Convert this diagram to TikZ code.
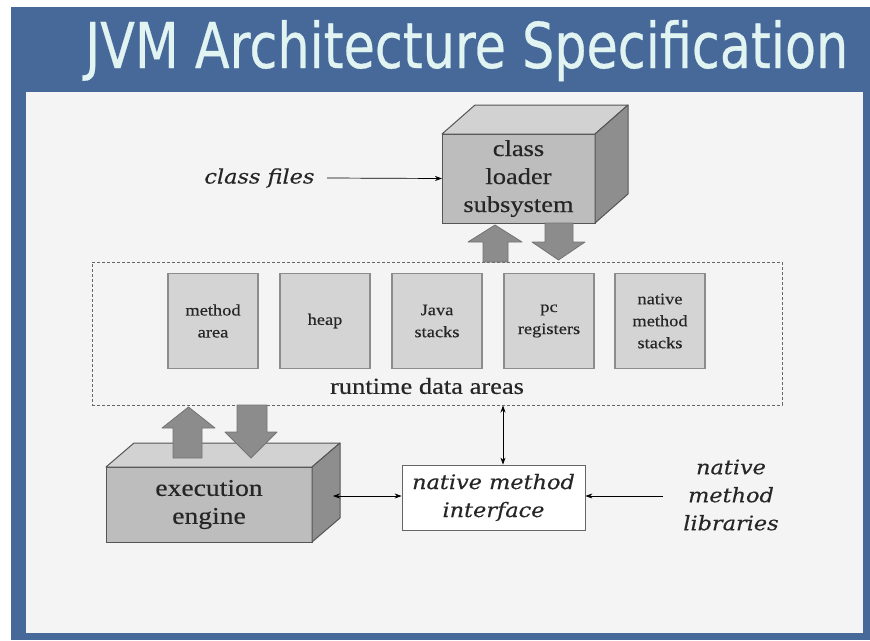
\documentclass[tikz,border=0pt]{standalone}
\usepackage{fontspec}
\setmainfont{Liberation Serif}[FakeStretch=1.15,FakeBold=0.4]
\newfontfamily\titlefont{DejaVu Sans}[FakeBold=0.5]
\newfontfamily\itfont{DejaVu Serif}[FakeStretch=1.12,FakeBold=0.3]
\usepackage{graphicx}
\usetikzlibrary{arrows.meta}
\definecolor{bgblue}{HTML}{46699A}
\definecolor{panelc}{HTML}{F4F4F4}
\definecolor{titlefg}{HTML}{E2F4F2}
\definecolor{frontc}{HTML}{BDBDBD}
\definecolor{topc}{HTML}{D2D2D2}
\definecolor{sidec}{HTML}{8E8E8E}
\definecolor{edgec}{HTML}{555555}
\definecolor{blockc}{HTML}{8C8C8C}
\definecolor{innerc}{HTML}{D4D4D4}
\begin{document}
\begin{tikzpicture}[x=1pt,y=-1pt,
  front/.style={draw=edgec,fill=frontc,line width=1pt,inner sep=0,outer sep=0,align=center,
    font=\fontsize{23}{28}\selectfont,text=black!85},
  topface/.style={draw=edgec,fill=topc,line width=1pt,line join=round},
  sideface/.style={draw=edgec,fill=sidec,line width=1pt,line join=round},
  blockarrow/.style={draw=black!55,fill=blockc,line width=0.8pt,line join=round},
  inner/.style={draw=black!45,fill=innerc,line width=1.2pt,minimum width=90,minimum height=95,
    inner sep=0,align=center,font=\fontsize{16}{22}\selectfont,text=black!85},
  itlabel/.style={align=center,font=\itfont\itshape\fontsize{20}{28}\selectfont,text=black!85},
  thin/.style={line width=0.7pt,-{Stealth[length=7pt,width=5pt]}},
  thinboth/.style={line width=0.7pt,{Stealth[length=7pt,width=5pt]}-{Stealth[length=7pt,width=5pt]}}]
\useasboundingbox (0,0) rectangle (870,640);
\fill[white] (0,0) rectangle (870,640);
\fill[bgblue] (11,7) rectangle (870,640);
\fill[panelc] (26,92) rectangle (863,633);
% title
\node[anchor=base west,inner sep=0,text=titlefg] (title) at (85,68)
  {\resizebox{763pt}{48pt}{\titlefont JVM Architecture Specification}};
% class loader
\node[front,minimum width=153,minimum height=89] (cl) at (518.5,178.5) {class\\loader\\subsystem};
\filldraw[topface] (cl.north west) -- ++(33,-29) -- ++(153,0) -- (cl.north east) -- cycle;
\filldraw[sideface] (cl.north east) -- ++(33,-29) -- ++(0,89) -- (cl.south east) -- cycle;
% runtime data areas
\node[draw=black!60,dashed,dash pattern=on 3pt off 2pt,line width=1pt,minimum width=690,minimum height=143,inner sep=0] (rda) at (437,333.5) {};
\node[inner] (ma) at (213,321) {method\\area};
\node[inner] (hp) at (325,321) {heap};
\node[inner] (js) at (437,321) {Java\\stacks};
\node[inner] (pc) at (549,321) {pc\\registers};
\node[inner] (nms) at (660,321) {native\\method\\stacks};
\node[font=\fontsize{23}{24}\selectfont,text=black!85] (rdal) at (427,386) {runtime data areas};
% block arrows class loader
\filldraw[blockarrow] (483,262) -- (483,242) -- (468,242) -- (495,225) -- (522,242) -- (508,242) -- (508,262) -- cycle;
\filldraw[blockarrow] (545,223) -- (545,242) -- (532,242) -- (558.5,260) -- (585,242) -- (573,242) -- (573,223) -- cycle;
% execution engine
\node[front,minimum width=206,minimum height=75,font=\fontsize{24}{28}\selectfont] (ee) at (209,504.5) {execution\\engine};
\filldraw[topface] (ee.north west) -- ++(28,-24) -- ++(206,0) -- (ee.north east) -- cycle;
\filldraw[sideface] (ee.north east) -- ++(28,-24) -- ++(0,75) -- (ee.south east) -- cycle;
\filldraw[blockarrow] (173,458) -- (173,428) -- (162,428) -- (188.5,407) -- (215,428) -- (202,428) -- (202,458) -- cycle;
\filldraw[blockarrow] (237,405) -- (237,432) -- (225,432) -- (251,458) -- (277,432) -- (267,432) -- (267,405) -- cycle;
% native method interface
\node[draw=black!60,fill=white,line width=0.8pt,minimum width=183,minimum height=65,inner sep=0,itlabel] (nmi) at (493.5,497.5) {native method\\interface};
\node[itlabel] (lib) at (731,495) {native\\method\\libraries};
\node[itlabel,anchor=east] (cf) at (318,178) {class files};
% connectors
\draw[thin] (cf.east) ++(9,0) coordinate (cfs) -- (cl.west);
\coordinate (eer) at (333,496);
\draw[thinboth] (eer) -- (nmi.west |- eer);
\coordinate (libw) at (663,496);
\draw[thin] (libw) -- (nmi.east |- libw);
\coordinate (xv) at (503,0);
\draw[thinboth] (rda.south -| xv) -- (nmi.north -| xv);
\end{tikzpicture}
\end{document}
